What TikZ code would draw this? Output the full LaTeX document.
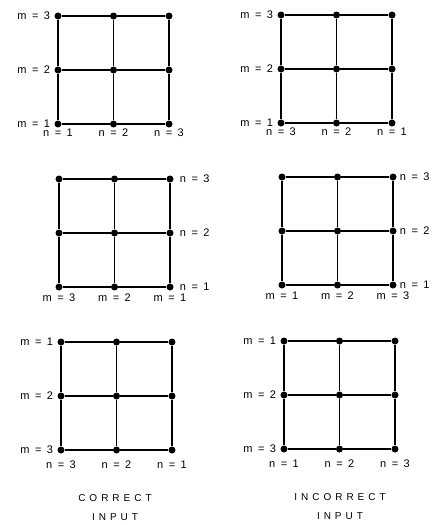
\documentclass[tikz,border=0pt]{standalone}
\usepackage{fontspec}
\setmainfont{Liberation Sans}
\newfontfamily\capfont[LetterSpace=40]{Liberation Sans}
\usetikzlibrary{positioning}

\begin{document}
\begin{tikzpicture}[
    x=1pt,
    y=1pt,
    dot/.style={circle, fill, inner sep=0pt, minimum size=7pt},
    wire/.style={line width=1.5pt},
    lbl/.style={inner sep=1pt, font=\fontsize{11}{13}\selectfont},
    captext/.style={align=center, inner sep=1pt, font=\capfont\fontsize{10}{19}\selectfont}
  ]
    \useasboundingbox (0,0) rectangle (443,-525);

    % -- the six 3x3 meshes: nodes and wires --
    \foreach \g/\ox/\oy in {A/58/16, B/281/15, C/59/179, D/282/177, E/61/342, F/284/341} {
      \foreach \i in {0,1,2}
        \foreach \j in {0,1,2}
          \node[dot] (\g\i\j) at (\ox+55.5*\i, -\oy-54*\j) {};
      \foreach \k in {0,1,2} {
        \draw[wire] (\g0\k) -- (\g1\k) -- (\g2\k);
        \draw[wire] (\g\k0) -- (\g\k1) -- (\g\k2);
      }
    }

    % -- top left --
    \foreach \t [count=\k from 0] in {3,2,1}
      \node[lbl, left=3pt of A0\k] (Am\k) {m\enspace=\enspace\t};
    \foreach \t [count=\k from 0] in {1,2,3}
      \node[lbl, below=0pt of A\k2] (An\k) {n\enspace=\enspace\t};

    % -- top right --
    \foreach \t [count=\k from 0] in {3,2,1}
      \node[lbl, left=3pt of B0\k] (Bm\k) {m\enspace=\enspace\t};
    \foreach \t [count=\k from 0] in {3,2,1}
      \node[lbl, below=0pt of B\k2] (Bn\k) {n\enspace=\enspace\t};

    % -- middle left --
    \foreach \t [count=\k from 0] in {3,2,1}
      \node[lbl, right=5pt of C2\k] (Cn\k) {n\enspace=\enspace\t};
    \foreach \t [count=\k from 0] in {3,2,1}
      \node[lbl, below=2pt of C\k2] (Cm\k) {m\enspace=\enspace\t};

    % -- middle right --
    \foreach \t [count=\k from 0] in {3,2,1}
      \node[lbl, right=2pt of D2\k] (Dn\k) {n\enspace=\enspace\t};
    \foreach \t [count=\k from 0] in {1,2,3}
      \node[lbl, below=2pt of D\k2] (Dm\k) {m\enspace=\enspace\t};

    % -- bottom left --
    \foreach \t [count=\k from 0] in {1,2,3}
      \node[lbl, left=3pt of E0\k] (Em\k) {m\enspace=\enspace\t};
    \foreach \t [count=\k from 0] in {3,2,1}
      \node[lbl, below=6pt of E\k2] (En\k) {n\enspace=\enspace\t};

    % -- bottom right --
    \foreach \t [count=\k from 0] in {1,2,3}
      \node[lbl, left=3pt of F0\k] (Fm\k) {m\enspace=\enspace\t};
    \foreach \t [count=\k from 0] in {1,2,3}
      \node[lbl, below=6pt of F\k2] (Fn\k) {n\enspace=\enspace\t};

    % -- captions --
    \node[captext] (capL) at (115,-508) {CORRECT\\INPUT};
    \node[captext] (capR) at (340,-507) {INCORRECT\\INPUT};
  \end{tikzpicture}
\end{document}
